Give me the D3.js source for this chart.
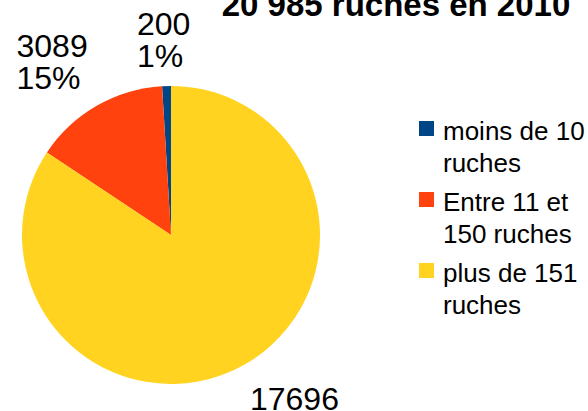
<!DOCTYPE html>
<html>
<head>
<meta charset="utf-8">
<script src="https://cdn.jsdelivr.net/npm/d3@7"></script>
<style>
  html, body { margin: 0; padding: 0; background: #fff; }
  svg { display: block; font-family: "Liberation Sans", Arial, sans-serif; }
</style>
</head>
<body>
<div id="chart"></div>
<script>
// Répartition des ruches par taille d'exploitation (2010)
const title = "20 985 ruches en 2010"
const categories = ["moins de 10 ruches", "Entre 11 et 150 ruches", "plus de 151 ruches"]
const legendLines = [["moins de 10", "ruches"], ["Entre 11 et", "150 ruches"], ["plus de 151", "ruches"]]
const values = [200, 3089, 17696]
const colors = ["#004586", "#ff420e", "#ffd320"]

const W = 588, H = 411
const cx = 171, cy = 235, radius = 149

const svg = d3.select("#chart").append("svg")
  .attr("width", W).attr("height", H)
  .attr("viewBox", `0 0 ${W} ${H}`)

// --- Titre (coupé en haut comme dans l'original) ---
svg.append("text")
  .attr("x", 396).attr("y", 16)
  .attr("text-anchor", "middle")
  .attr("font-size", 33).attr("font-weight", "bold")
  .attr("fill", "#000")
  .text(title)

// --- Camembert : départ à midi, sens anti-horaire ---
const total = d3.sum(values)
const pie = d3.pie().sort(null).startAngle(0).endAngle(-2 * Math.PI)
const arcs = pie(values)
const arc = d3.arc().innerRadius(0).outerRadius(radius)

const g = svg.append("g").attr("transform", `translate(${cx},${cy})`)

g.selectAll("path.slice")
  .data(arcs)
  .join("path")
  .attr("class", "slice")
  .attr("d", arc)
  .attr("fill", (_, i) => colors[i])

// --- Étiquettes : valeur + % à l'extérieur ---
// La boîte du label est accrochée au point (r + GAP) par le coin/bord le
// plus proche du centre, comme le fait LibreOffice.
const LABEL_FS = 32, LABEL_LH = 32, ASC = 28, GAP = 18
const fmtPct = (v) => Math.round(v / total * 100) + "%"
const clamp = (v) => Math.max(-1, Math.min(1, v))

arcs.forEach((d, i) => {
  const a = (d.startAngle + d.endAngle) / 2
  const r = radius + GAP
  const px = Math.sin(a) * r, py = -Math.cos(a) * r
  const lines = [String(values[i]), fmtPct(values[i])]
  const t = g.append("text")
    .attr("font-size", LABEL_FS)
    .attr("fill", "#000")
  lines.forEach((s) => t.append("tspan").text(s))
  const w = d3.max(t.selectAll("tspan").nodes(), n => n.getComputedTextLength())
  const h = ASC + (lines.length - 1) * LABEL_LH + 1
  const bx = px + clamp(Math.sin(a) * 3) * w / 2 - w / 2
  const by = py - clamp(Math.cos(a) * 3) * h / 2 - h / 2
  t.selectAll("tspan")
    .attr("x", bx)
    .attr("y", (_, j) => by + ASC + j * LABEL_LH)
})

// --- Légende ---
const leg = svg.append("g").attr("transform", "translate(419,121)")
const item = leg.selectAll("g.item")
  .data(categories)
  .join("g")
  .attr("class", "item")
  .attr("transform", (_, i) => `translate(0,${i * 71})`)

item.append("rect")
  .attr("width", 15).attr("height", 15)
  .attr("fill", (_, i) => colors[i])

item.append("text")
  .attr("font-size", 26)
  .attr("fill", "#000")
  .selectAll("tspan")
  .data((_, i) => legendLines[i])
  .join("tspan")
  .attr("x", 24)
  .attr("y", (_, j) => 19 + j * 32)
  .text(d => d)
</script>
</body>
</html>
